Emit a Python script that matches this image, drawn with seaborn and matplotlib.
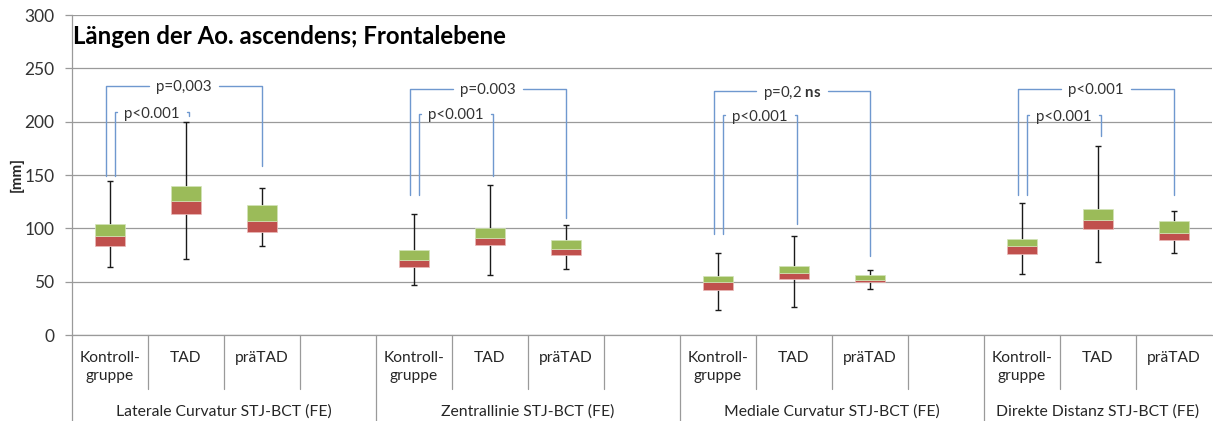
import numpy as np
import pandas as pd
import matplotlib
matplotlib.use("Agg")
import matplotlib.pyplot as plt
import seaborn as sns

# ---------------- data ----------------
groups = ["Laterale Curvatur STJ-BCT (FE)", "Zentrallinie STJ-BCT (FE)",
          "Mediale Curvatur STJ-BCT (FE)", "Direkte Distanz STJ-BCT (FE)"]
subgroups = ["Kontroll-\ngruppe", "TAD", "präTAD"]
slots_per_group = [4, 4, 4, 3]

# per group: [Kontrollgruppe, TAD, präTAD]
mins    = [[63.4, 71.0, 83.1], [46.6, 56.6, 61.6], [23.4, 26.6, 43.1], [57.5, 68.0, 76.6]]
q1s     = [[83.7, 113.1, 96.3], [63.8, 84.1, 75.3], [42.2, 52.8, 49.7], [76.2, 99.0, 88.8]]
medians = [[92.8, 125.6, 106.9], [70.3, 90.9, 80.3], [49.7, 57.8, 51.9], [83.4, 107.8, 95.3]]
q3s     = [[104.4, 139.7, 121.9], [79.4, 100.0, 89.1], [55.6, 65.0, 56.0], [90.0, 118.4, 106.6]]
maxs    = [[144.4, 199.4, 137.5], [113.4, 140.9, 103.4], [76.6, 92.5, 60.6], [123.4, 177.5, 116.6]]

# significance brackets: (label, top, left foot, right foot) per group
outer_labels = ["p=0,003", "p=0.003", r"p=0,2 $\mathbf{ns}$", "p<0.001"]
outer_top    = [233.7, 230.9, 229.0, 230.9]
outer_lfoot  = [149.4, 131.2, 94.4, 131.2]
outer_rfoot  = [158.7, 110.0, 74.4, 131.2]
inner_labels = ["p<0.001", "p<0.001", "p<0.001", "p<0.001"]
inner_top    = [208.8, 207.5, 206.2, 206.0]
inner_lfoot  = [149.4, 131.2, 95.0, 131.0]
inner_rfoot  = [205.5, 149.4, 104.0, 186.9]

title = "Längen der Ao. ascendens; Frontalebene"
ylabel = "[mm]"

# ---------------- build table ----------------
rows = []
for g in range(len(groups)):
    for j in range(len(subgroups)):
        rows.append(dict(slot=g * 4 + j, grp=g, sub=j,
                         mn=mins[g][j], q1=q1s[g][j], med=medians[g][j],
                         q3=q3s[g][j], mx=maxs[g][j]))
df = pd.DataFrame(rows).sort_values("slot").reset_index(drop=True)
df["lower"] = df["med"] - df["q1"]
df["upper"] = df["q3"] - df["med"]
n_slots = sum(slots_per_group)

# ---------------- style ----------------
sns.set_style("white")
plt.rcParams["font.family"] = ["Lato", "DejaVu Sans"]
plt.rcParams["mathtext.fontset"] = "custom"
plt.rcParams["mathtext.rm"] = "Lato"
plt.rcParams["mathtext.bf"] = "Lato:bold"

RED = "#C0504D"
GREEN = "#9BBB59"
GRID = "#9a9a9a"
BRACKET = "#6f98cf"
TXT = "#262626"

W, H = 1213, 421
fig = plt.figure(figsize=(W / 100, H / 100), dpi=100)
ax = fig.add_axes([72 / W, 86 / H, 1140 / W, 320 / H])

# whiskers (below boxes)
ax.vlines(df["slot"], df["mn"], df["q1"], color="#1a1a1a", lw=1.0, zorder=2)
ax.vlines(df["slot"], df["q3"], df["mx"], color="#1a1a1a", lw=1.0, zorder=2)
cap = 0.045
ax.hlines(df["mn"], df["slot"] - cap, df["slot"] + cap, color="#1a1a1a", lw=1.0, zorder=2)
ax.hlines(df["mx"], df["slot"] - cap, df["slot"] + cap, color="#1a1a1a", lw=1.0, zorder=2)

# stacked boxes
sns.barplot(data=df, x="slot", y="lower", bottom=df["q1"].values, native_scale=True,
            orient="x", color=RED, width=0.39, errorbar=None, ax=ax,
            edgecolor="#eab9b8", linewidth=0.5, zorder=3, saturation=1)
sns.barplot(data=df, x="slot", y="upper", bottom=df["med"].values, native_scale=True,
            orient="x", color=GREEN, width=0.39, errorbar=None, ax=ax,
            edgecolor="#d3e4b8", linewidth=0.5, zorder=3, saturation=1)

ax.set_xlim(-0.5, n_slots - 0.5)
ax.set_ylim(0, 300)
ax.set_yticks(np.arange(0, 301, 50))
ax.set_xticks([])
ax.set_xlabel("")
ax.set_ylabel("")
ax.yaxis.grid(True, color=GRID, lw=0.9)
ax.set_axisbelow(True)
ax.tick_params(axis="y", length=5, width=0.9, color=GRID, pad=7.5,
               labelsize=12.5, labelcolor="#333333", left=True)
for s in ["top", "right"]:
    ax.spines[s].set_visible(False)
ax.spines["left"].set_color(GRID)
ax.spines["bottom"].set_color(GRID)
ax.spines["left"].set_linewidth(0.9)
ax.spines["bottom"].set_linewidth(0.9)

# category axis frame below plot
xt = ax.get_xaxis_transform()
sub_bottom = (335 - 389) / 320
full_bottom = (335 - 421) / 320
ax.plot([-0.5, -0.5], [0, full_bottom], transform=xt, color=GRID, lw=0.9, clip_on=False)
start = 0
for g, ns in enumerate(slots_per_group):
    for k in range(1, ns + 1):
        b = start + k - 0.5
        if b >= n_slots - 0.5:
            continue
        yb = full_bottom if k == ns else sub_bottom
        ax.plot([b, b], [0, yb], transform=xt, color=GRID, lw=0.9, clip_on=False)
    for j, lab in enumerate(subgroups):
        ax.text(start + j, (335 - 351) / 320, lab, transform=xt, ha="center", va="top",
                fontsize=11.2, color=TXT, linespacing=1.4)
    ax.text(start + (ns - 1) / 2, (335 - 416) / 320, groups[g], transform=xt, ha="center",
            va="baseline", fontsize=11.3, color=TXT)
    start += ns

# title and y label
fig.text(73 / W, 1 - 44 / H, title, ha="left", va="baseline", fontsize=17.3,
         weight="bold", color="black")
fig.text(17 / W, 1 - 174 / H, ylabel, rotation=90, ha="center", va="center",
         fontsize=11, weight="bold", color=TXT)

# significance brackets
texts = []
for g in range(len(groups)):
    s0 = g * 4
    specs = [(outer_labels[g], outer_top[g], outer_lfoot[g], outer_rfoot[g], s0 - 0.05, s0 + 2.0),
             (inner_labels[g], inner_top[g], inner_lfoot[g], inner_rfoot[g], s0 + 0.06, s0 + 1.04)]
    for lab, top, lf, rf, xl, xr in specs:
        t = ax.text((xl + xr) / 2, top, lab, ha="center", va="center_baseline",
                    fontsize=10.8, color="#333333", zorder=5)
        texts.append((t, top, lf, rf, xl, xr))

fig.canvas.draw()
r = fig.canvas.get_renderer()
inv = ax.transData.inverted()
for t, top, lf, rf, xl, xr in texts:
    bb = t.get_window_extent(r)
    gap = 7
    xa = inv.transform((bb.x0 - gap, 0))[0]
    xb = inv.transform((bb.x1 + gap, 0))[0]
    ax.plot([xl, xl, xa], [lf, top, top], color=BRACKET, lw=1.0, zorder=4)
    ax.plot([xb, xr, xr], [top, top, rf], color=BRACKET, lw=1.0, zorder=4)

fig.savefig("out.png", dpi=100)
